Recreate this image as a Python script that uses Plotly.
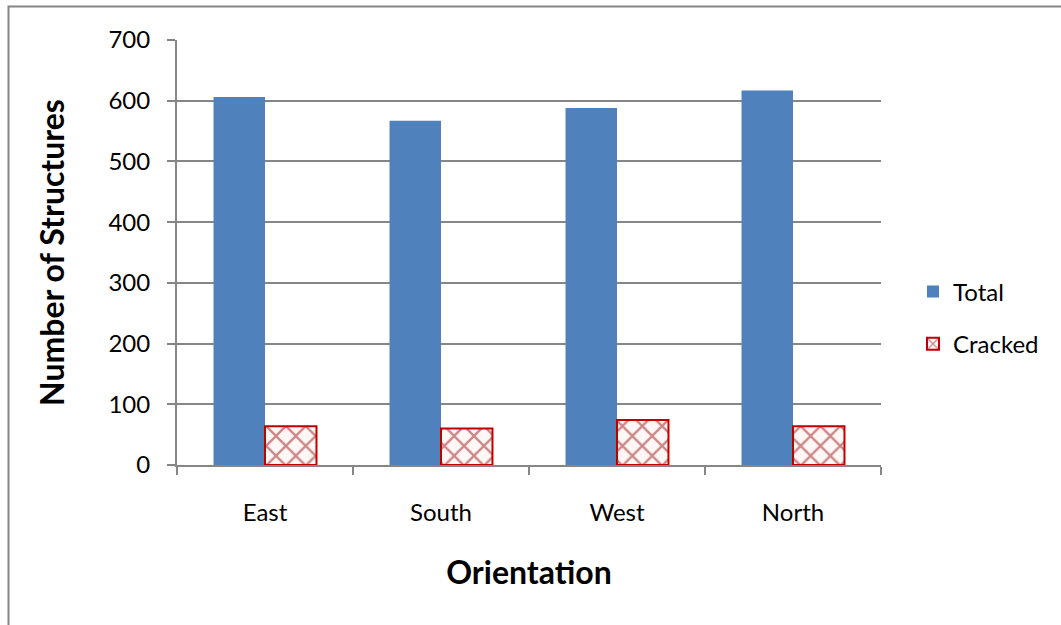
import plotly.graph_objects as go

categories = ["East", "South", "West", "North"]
total = [606, 567, 588, 617]
cracked = [64, 60, 74, 64]
y_ticks = [0, 100, 200, 300, 400, 500, 600, 700]

W, H = 1061, 625
L, R, T, B = 177, 180, 40, 160
pw, ph = W - L - R, H - T - B

FONT = "Lato"
GRAY = "#868686"

fig = go.Figure()
fig.add_trace(go.Bar(
    x=categories, y=total, name="Total",
    marker=dict(color="#4F81BD", line=dict(width=0)),
    legendgroup="a",
))
fig.add_trace(go.Bar(
    x=categories, y=cracked, name="Cracked",
    marker=dict(
        color="#FFF4F4",
        line=dict(color="#C00000", width=2),
        pattern=dict(shape="x", fgcolor="#9A1818", bgcolor="#FFF6F6", size=14, solidity=0.3),
    ),
    legendgroup="b",
))

def px2x(px):
    return (px - L) / pw

def py2y(py):
    return (H - B - py) / ph

fig.update_layout(
    width=W, height=H,
    margin=dict(l=L, r=R, t=T, b=B, autoexpand=False),
    paper_bgcolor="white", plot_bgcolor="white",
    barmode="group", bargap=0.415, bargroupgap=0,
    font=dict(family=FONT, size=24, color="black"),
    showlegend=True,
    legend=dict(
        x=px2x(913), xanchor="left", y=py2y(318), yanchor="middle",
        font=dict(family=FONT, size=24, color="black"),
        tracegroupgap=18, itemsizing="constant",
        bgcolor="rgba(0,0,0,0)",
    ),
    xaxis=dict(
        showline=True, linecolor=GRAY, linewidth=2,
        ticks="outside", tickson="boundaries", ticklen=8, tickcolor=GRAY, tickwidth=2,
        tickfont=dict(family=FONT, size=24),
        title=dict(text="<b>Orientation</b>", font=dict(family=FONT, size=32), standoff=37),
        ticklabelstandoff=25,
        showgrid=False,
    ),
    yaxis=dict(
        range=[0, 700], tickvals=y_ticks,
        showline=True, linecolor=GRAY, linewidth=2,
        ticks="outside", ticklen=8, tickcolor=GRAY, tickwidth=2,
        tickfont=dict(family=FONT, size=24),
        showgrid=True, gridcolor=GRAY, gridwidth=2,
        zeroline=False,
        title=dict(text="<b>Number of Structures</b>", font=dict(family=FONT, size=32), standoff=34),
        ticklabelstandoff=12,
    ),
    shapes=[dict(
        type="rect", xref="paper", yref="paper",
        x0=px2x(8.5), x1=px2x(1080), y0=py2y(640), y1=py2y(6.5),
        line=dict(color=GRAY, width=2), fillcolor="rgba(0,0,0,0)", layer="below",
    )],
)

fig.write_html("out.html")
